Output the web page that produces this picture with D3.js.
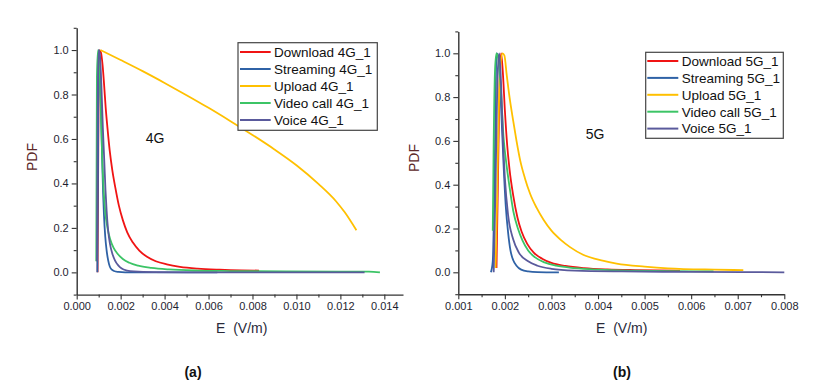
<!DOCTYPE html>
<html>
<head>
<meta charset="utf-8">
<script src="https://cdn.jsdelivr.net/npm/d3@7/dist/d3.min.js"></script>
<style>
  body { margin: 0; background: #fff; }
  svg { display: block; }
  text { font-family: "Liberation Sans", Arial, sans-serif; }
</style>
</head>
<body>
<svg id="chart" width="816" height="389"></svg>
<script>
// ---------- DATA ----------
const seriesNames4G = ["Download 4G_1", "Streaming 4G_1", "Upload 4G_1", "Video call 4G_1", "Voice 4G_1"];
const seriesNames5G = ["Download 5G_1", "Streaming 5G_1", "Upload 5G_1", "Video call 5G_1", "Voice 5G_1"];
const seriesColors = ["#f01414", "#2f62a6", "#ffc000", "#3cc466", "#5a5a9c"];

// 4G panel
const download4G_E   = [0.00095, 0.00099, 0.00103, 0.00110, 0.00118, 0.00125, 0.00132, 0.00140, 0.00150, 0.00162, 0.00176, 0.00192, 0.00210, 0.00230, 0.00255, 0.00285, 0.00320, 0.00360, 0.00410, 0.00470, 0.00550, 0.00650, 0.00750, 0.00830];
const download4G_PDF = [0.00, 0.70, 1.00, 0.99, 0.93, 0.84, 0.74, 0.65, 0.55, 0.46, 0.38, 0.30, 0.235, 0.18, 0.135, 0.098, 0.070, 0.050, 0.036, 0.025, 0.017, 0.012, 0.009, 0.008];

const streaming4G_E   = [0.00094, 0.00097, 0.00100, 0.00104, 0.00109, 0.00115, 0.00120, 0.00124, 0.00130, 0.00136, 0.00143, 0.00151, 0.00160, 0.00170, 0.00190, 0.00220, 0.00450, 0.00640];
const streaming4G_PDF = [0.00, 0.50, 1.00, 0.98, 0.80, 0.55, 0.36, 0.26, 0.16, 0.10, 0.055, 0.025, 0.012, 0.006, 0.002, 0.000, 0.000, 0.000];

const upload4G_E   = [0.00108, 0.00200, 0.00300, 0.00400, 0.00500, 0.00600, 0.00700, 0.00800, 0.00900, 0.01000, 0.01100, 0.01180, 0.01220, 0.01273];
const upload4G_PDF = [1.00, 0.955, 0.905, 0.852, 0.797, 0.740, 0.680, 0.618, 0.553, 0.482, 0.398, 0.320, 0.270, 0.189];

const video4G_E   = [0.00089, 0.00092, 0.00097, 0.00102, 0.00108, 0.00115, 0.00122, 0.00130, 0.00140, 0.00152, 0.00168, 0.00185, 0.00210, 0.00240, 0.00280, 0.00340, 0.00420, 0.00550, 0.00700, 0.00950, 0.01200, 0.01330, 0.01380];
const video4G_PDF = [0.05, 0.88, 1.00, 0.97, 0.80, 0.55, 0.38, 0.27, 0.20, 0.15, 0.11, 0.085, 0.060, 0.043, 0.030, 0.020, 0.013, 0.008, 0.006, 0.004, 0.003, 0.003, 0.000];

const voice4G_E   = [0.00092, 0.00096, 0.00100, 0.00106, 0.00112, 0.00119, 0.00126, 0.00131, 0.00136, 0.00143, 0.00151, 0.00162, 0.00174, 0.00190, 0.00205, 0.00230, 0.00260, 0.00350, 0.00600, 0.01310];
const voice4G_PDF = [0.05, 0.80, 1.00, 0.97, 0.85, 0.65, 0.49, 0.37, 0.28, 0.19, 0.13, 0.085, 0.054, 0.030, 0.017, 0.008, 0.004, 0.001, 0.000, 0.000];

// 5G panel
const download5G_E   = [0.00182, 0.00185, 0.00189, 0.00192, 0.00196, 0.00200, 0.00205, 0.00210, 0.00218, 0.00227, 0.00236, 0.00248, 0.00262, 0.00280, 0.00300, 0.00330, 0.00370, 0.00420, 0.00480, 0.00576];
const download5G_PDF = [0.02, 0.40, 0.90, 1.00, 0.90, 0.74, 0.58, 0.47, 0.35, 0.25, 0.185, 0.13, 0.090, 0.062, 0.043, 0.029, 0.019, 0.013, 0.010, 0.008];

const streaming5G_E   = [0.00170, 0.00174, 0.00178, 0.00182, 0.00187, 0.00192, 0.00197, 0.00202, 0.00207, 0.00212, 0.00218, 0.00225, 0.00235, 0.00250, 0.00270, 0.00316];
const streaming5G_PDF = [0.00, 0.05, 0.45, 1.00, 0.98, 0.75, 0.50, 0.30, 0.18, 0.10, 0.055, 0.030, 0.012, 0.004, 0.001, 0.000];

const upload5G_E   = [0.00180, 0.00183, 0.00186, 0.00190, 0.00195, 0.00199, 0.00204, 0.00210, 0.00218, 0.00225, 0.00233, 0.00243, 0.00254, 0.00268, 0.00283, 0.00300, 0.00320, 0.00340, 0.00368, 0.00410, 0.00440, 0.00500, 0.00550, 0.00650, 0.00712];
const upload5G_PDF = [0.02, 0.30, 0.65, 0.93, 1.00, 0.99, 0.90, 0.80, 0.69, 0.60, 0.51, 0.43, 0.36, 0.295, 0.24, 0.19, 0.148, 0.115, 0.080, 0.053, 0.040, 0.026, 0.018, 0.012, 0.010];

const video5G_E   = [0.00174, 0.00176, 0.00179, 0.00182, 0.00186, 0.00191, 0.00197, 0.00203, 0.00210, 0.00218, 0.00228, 0.00238, 0.00250, 0.00265, 0.00285, 0.00310, 0.00350, 0.00400, 0.00480, 0.00560, 0.00648];
const video5G_PDF = [0.19, 0.60, 0.93, 1.00, 0.97, 0.85, 0.62, 0.50, 0.39, 0.28, 0.20, 0.145, 0.10, 0.068, 0.045, 0.030, 0.019, 0.012, 0.007, 0.005, 0.004];

const voice5G_E   = [0.00176, 0.00180, 0.00184, 0.00188, 0.00192, 0.00196, 0.00200, 0.00207, 0.00218, 0.00230, 0.00250, 0.00270, 0.00300, 0.00350, 0.00450, 0.00600, 0.00800];
const voice5G_PDF = [0.00, 0.40, 0.88, 1.00, 0.85, 0.60, 0.43, 0.26, 0.15, 0.09, 0.05, 0.030, 0.016, 0.008, 0.004, 0.002, 0.000];

// tick values
const xTicks4G = [0, 0.002, 0.004, 0.006, 0.008, 0.010, 0.012, 0.014];
const xMinor4G = [0.001, 0.003, 0.005, 0.007, 0.009, 0.011, 0.013];
const xTicks5G = [0.001, 0.002, 0.003, 0.004, 0.005, 0.006, 0.007, 0.008];
const xMinor5G = [0.0015, 0.0025, 0.0035, 0.0045, 0.0055, 0.0065, 0.0075];
const yTicks = [0, 0.2, 0.4, 0.6, 0.8, 1.0];
const yMinor = [-0.1, 0.1, 0.3, 0.5, 0.7, 0.9, 1.1];

// ---------- DRAWING ----------
const svg = d3.select("#chart");

function zip(E, P) { return E.map((e, i) => ({ e: e, p: P[i] })); }

function drawPanel(cfg) {
  const x = d3.scaleLinear().domain(cfg.xDomain).range(cfg.xRange);
  const y = d3.scaleLinear().domain([-0.1, 1.1]).range(cfg.yRange);
  const g = svg.append("g");
  const axisColor = "#333";

  // curves
  const line = d3.line().x(d => x(d.e)).y(d => y(d.p)).curve(d3.curveMonotoneX);
  cfg.series.forEach((s, i) => {
    g.append("path")
      .attr("d", line(s))
      .attr("fill", "none")
      .attr("stroke", seriesColors[i])
      .attr("stroke-width", 1.8)
      .attr("stroke-linejoin", "round");
  });

  // x axis
  g.append("g").attr("transform", `translate(0,${y(-0.1)})`)
    .call(d3.axisBottom(x).tickValues(cfg.xTicks).tickFormat(d3.format(".3f")).tickSize(5).tickPadding(3).tickSizeOuter(0));
  g.append("g").attr("transform", `translate(0,${y(-0.1)})`)
    .call(d3.axisBottom(x).tickValues(cfg.xMinor).tickFormat("").tickSize(3).tickSizeOuter(0))
    .select(".domain").remove();
  // y axis
  g.append("g").attr("transform", `translate(${x(cfg.xDomain[0])},0)`)
    .call(d3.axisLeft(y).tickValues(yTicks).tickFormat(d3.format(".1f")).tickSize(5).tickPadding(3).tickSizeOuter(0));
  g.append("g").attr("transform", `translate(${x(cfg.xDomain[0])},0)`)
    .call(d3.axisLeft(y).tickValues(yMinor).tickFormat("").tickSize(3).tickSizeOuter(0))
    .select(".domain").remove();

  g.selectAll(".domain").attr("stroke", axisColor).attr("stroke-width", 1.4);
  g.selectAll(".tick line").attr("stroke", axisColor).attr("stroke-width", 1.1);
  g.selectAll(".tick text").attr("font-size", 11).attr("fill", "#1e1e30")
    .attr("font-family", "'Liberation Sans', Arial, sans-serif");

  // axis titles
  g.append("text")
    .attr("x", cfg.xTitleX).attr("y", 333)
    .attr("text-anchor", "middle").attr("font-size", 14).attr("fill", "#2a2a3a")
    .attr("xml:space", "preserve")
    .text("E  (V/m)");
  g.append("text")
    .attr("transform", `translate(${cfg.yTitleX},${cfg.yTitleY}) rotate(-90)`)
    .attr("text-anchor", "middle").attr("font-size", 14).attr("fill", "#5c2828")
    .text("PDF");

  // panel label inside
  g.append("text")
    .attr("x", cfg.tagX).attr("y", cfg.tagY)
    .attr("text-anchor", "middle").attr("font-size", 14).attr("fill", "#111")
    .text(cfg.tag);

  // legend
  const L = cfg.legend;
  const lg = g.append("g");
  lg.append("rect")
    .attr("x", L.x).attr("y", L.y).attr("width", L.w).attr("height", L.h)
    .attr("fill", "#fff").attr("stroke", "#444").attr("stroke-width", 1.2);
  cfg.names.forEach((n, i) => {
    const yy = L.y0 + i * L.dy;
    lg.append("line")
      .attr("x1", L.lx1).attr("x2", L.lx2).attr("y1", yy).attr("y2", yy)
      .attr("stroke", seriesColors[i]).attr("stroke-width", 2);
    lg.append("text")
      .attr("x", L.tx).attr("y", yy).attr("dy", "0.36em")
      .attr("font-size", 13.5).attr("fill", "#111")
      .text(n);
  });

  // subfigure label
  g.append("text")
    .attr("x", cfg.subX).attr("y", 377)
    .attr("text-anchor", "middle").attr("font-size", 14).attr("font-weight", "bold")
    .attr("font-family", "'Liberation Serif', 'Times New Roman', serif").attr("fill", "#111")
    .text(cfg.sub);
}

drawPanel({
  xDomain: [0, 0.01485], xRange: [76.7, 403],
  yRange: [294.6, 27.8],
  xTicks: xTicks4G, xMinor: xMinor4G,
  series: [zip(download4G_E, download4G_PDF), zip(streaming4G_E, streaming4G_PDF), zip(upload4G_E, upload4G_PDF), zip(video4G_E, video4G_PDF), zip(voice4G_E, voice4G_PDF)],
  names: seriesNames4G,
  xTitleX: 241.7, yTitleX: 37, yTitleY: 157,
  tag: "4G", tagX: 155, tagY: 142.5,
  legend: { x: 238, y: 42.7, w: 139.3, h: 87.6, y0: 52, dy: 17, lx1: 240, lx2: 270.7, tx: 274 },
  sub: "(a)", subX: 193
});

drawPanel({
  xDomain: [0.001, 0.008], xRange: [458.3, 784.3],
  yRange: [294.2, 31.4],
  xTicks: xTicks5G, xMinor: xMinor5G,
  series: [zip(download5G_E, download5G_PDF), zip(streaming5G_E, streaming5G_PDF), zip(upload5G_E, upload5G_PDF), zip(video5G_E, video5G_PDF), zip(voice5G_E, voice5G_PDF)],
  names: seriesNames5G,
  xTitleX: 621.7, yTitleX: 419, yTitleY: 158,
  tag: "5G", tagX: 595, tagY: 139,
  legend: { x: 645.7, y: 52.3, w: 137.6, h: 86, y0: 61, dy: 16.9, lx1: 647.3, lx2: 678.3, tx: 681.7 },
  sub: "(b)", subX: 622
});
</script>
</body>
</html>
